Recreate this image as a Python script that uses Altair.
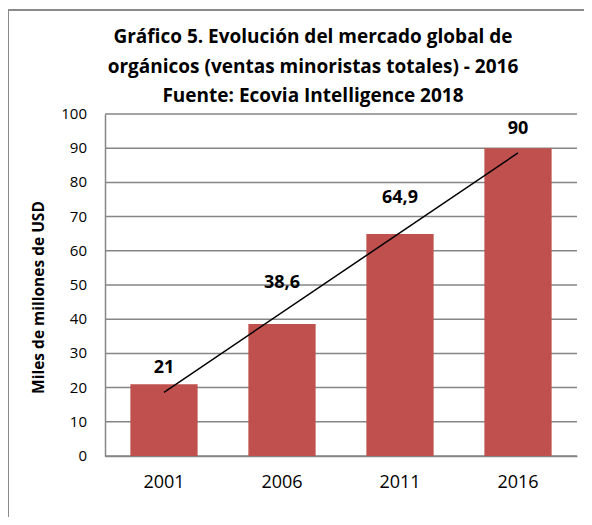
import altair as alt
import pandas as pd

years = ["2001", "2006", "2011", "2016"]
values = [21, 38.6, 64.9, 90]
value_labels = ["21", "38,6", "64,9", "90"]
label_pos = [25.7, 50.6, 75.4, 95.6]
idx = [0, 1, 2, 3]
y_ticks = [0, 10, 20, 30, 40, 50, 60, 70, 80, 90, 100]

title_lines = [
    "Gráfico 5. Evolución del mercado global de",
    "orgánicos (ventas minoristas totales) - 2016",
    "Fuente: Ecovia Intelligence 2018",
]
y_title = "Miles de millones de USD"

df = pd.DataFrame({"year": years, "value": values, "label": value_labels,
                   "label_pos": label_pos, "idx": idx})
ticks_df = pd.DataFrame({"tick": y_ticks})

FONT = "Open Sans"
GRID = "#868686"

x_axis = alt.Axis(title=None, labelAngle=0, labelFontSize=18, labelFont=FONT,
                  labelColor="black", labelPadding=17, ticks=False,
                  domainColor=GRID, domainWidth=1.5)
x_scale = alt.Scale(paddingInner=0.43, paddingOuter=0.215)
y_axis = alt.Axis(values=y_ticks, labels=False, title=y_title,
                  titleFont=FONT, titleFontSize=15.5, titleFontWeight="bold",
                  titleColor="black", titleAngle=-90, titleX=-67, titleY=183,
                  titleAlign="center", titleBaseline="middle",
                  ticks=False, grid=False, domainColor=GRID, domainWidth=1.5)
y_scale = alt.Scale(domain=[0, 100], nice=False)


def xe():
    return alt.X("year:N", sort=years, scale=x_scale, axis=x_axis)


def ye(field):
    return alt.Y(field, scale=y_scale, axis=y_axis)


frame = alt.Chart(pd.DataFrame({"a": [0]})).mark_rect(
    filled=False, stroke="#8a8a8a", strokeWidth=2
).encode(x=alt.value(-97), x2=alt.value(560), y=alt.value(-104), y2=alt.value(520))

grid = alt.Chart(ticks_df).mark_rule(color=GRID, strokeWidth=1.5).encode(
    y=ye("tick:Q"))

tick_labels = alt.Chart(ticks_df).mark_text(
    font=FONT, fontSize=15, color="black", align="right", baseline="middle"
).encode(x=alt.value(-18), y=ye("tick:Q"), text="tick:Q")

bars = alt.Chart(df).mark_bar(color="#C0504D").encode(x=xe(), y=ye("value:Q"))

year_expr = "[" + ",".join("'%s'" % y for y in years) + "][datum.idx]"
trend = alt.Chart(df).transform_regression("idx", "value").transform_calculate(
    year=year_expr
).mark_line(color="black", strokeWidth=1.5).encode(x=xe(), y=ye("value:Q"))

text = alt.Chart(df).mark_text(font=FONT, fontSize=18, fontWeight="bold", color="black").encode(
    x=xe(), y=ye("label_pos:Q"), text="label:N")

chart = alt.layer(frame, grid, tick_labels, bars, trend, text).properties(
    width=472, height=342,
    title=alt.TitleParams(text=title_lines, font=FONT, fontSize=19, fontWeight="bold",
                          color="black", anchor="middle", dx=-28, dy=107, offset=10,
                          lineHeight=29.5),
    autosize=alt.AutoSizeParams(type="none"),
    padding={"left": 97, "top": 106, "right": 7, "bottom": 61},
).configure_view(stroke=None, clip=False)

chart.save("out.html", embed_options={"renderer": "svg", "actions": False})
